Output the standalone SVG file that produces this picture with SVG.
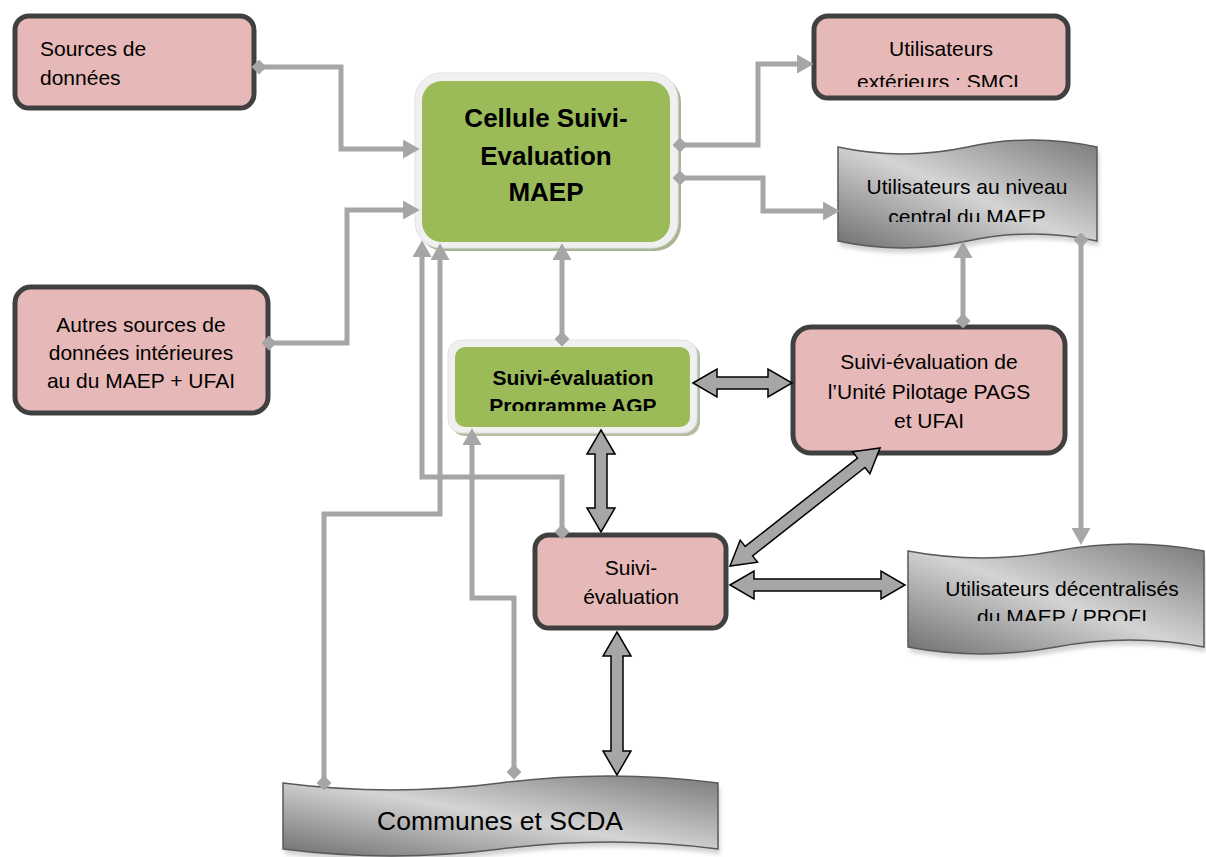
<svg xmlns="http://www.w3.org/2000/svg" width="1206" height="857" viewBox="0 0 1206 857">
<style>
.pink{fill:#e6b8b7;stroke:#404040;stroke-width:5}
.t{font-family:"Liberation Sans",Arial,sans-serif;font-size:21px;fill:#000}
.c{text-anchor:middle}
.b{font-weight:bold}
.conn{fill:none;stroke:#a6a6a6;stroke-width:5;marker-start:url(#dm);marker-end:url(#ah)}
.blk{fill:#a6a6a6;stroke:#000;stroke-width:1.5;stroke-linejoin:miter}
.doc{fill:url(#docg);stroke:#595959;stroke-width:1.5}
.docsh{fill:#9a9a9a;opacity:.45;filter:url(#blur)}
</style>
<defs>
<marker id="ah" viewBox="0 0 14 16" refX="5" refY="8" markerWidth="17" markerHeight="19" markerUnits="userSpaceOnUse" orient="auto"><path d="M0,0 L14,8 L0,16 z" fill="#a6a6a6"/></marker>
<marker id="dm" viewBox="0 0 14 14" refX="7" refY="7" markerWidth="15" markerHeight="15" markerUnits="userSpaceOnUse" orient="auto"><path d="M0,7 L7,0 L14,7 L7,14 z" fill="#a6a6a6"/></marker>
<linearGradient id="docg" x1="0" y1="1" x2="1" y2="0">
<stop offset="0" stop-color="#6f6f6f"/>
<stop offset="0.5" stop-color="#d4d4d4"/>
<stop offset="1" stop-color="#7a7a7a"/>
</linearGradient>
<filter id="blur" x="-5%" y="-10%" width="110%" height="130%"><feGaussianBlur stdDeviation="2"/></filter>
<clipPath id="clipExt"><rect x="800" y="0" width="300" height="87"/></clipPath>
<clipPath id="clipCenB"><rect x="830" y="130" width="280" height="92"/></clipPath>
<clipPath id="clipDec"><rect x="900" y="530" width="306" height="91"/></clipPath>
<clipPath id="clipAgp"><rect x="440" y="330" width="270" height="81"/></clipPath>
</defs>

<g id="sources">
<rect class="pink" x="15" y="16" width="239" height="92" rx="14"/>
<text class="t" x="40" y="56">Sources de</text>
<text class="t" x="40" y="85">données</text>
</g>

<g id="autres">
<rect class="pink" x="15" y="287" width="253" height="126" rx="16"/>
<text class="t c" x="141" y="332">Autres sources de</text>
<text class="t c" x="141" y="360">données intérieures</text>
<text class="t c" x="141" y="388">au du MAEP + UFAI</text>
</g>

<g id="cellule">
<rect x="418" y="76" width="263" height="175" rx="26" fill="#a9b693"/>
<rect x="415" y="73" width="263" height="175" rx="26" fill="#f0f0f0" stroke="#e2e2e2" stroke-width="1"/>
<rect x="422" y="81" width="248" height="161" rx="20" fill="#9bbb59"/>
<text class="t c b" x="546" y="127" style="font-size:26px">Cellule Suivi-</text>
<text class="t c b" x="546" y="165" style="font-size:26px">Evaluation</text>
<text class="t c b" x="546" y="201" style="font-size:26px">MAEP</text>
</g>

<g id="exterieurs">
<rect class="pink" x="814" y="16" width="254" height="82" rx="14"/>
<text class="t c" x="941" y="56">Utilisateurs</text>
<text class="t c" x="941" y="89" clip-path="url(#clipExt)">extérieurs : SMCL</text>
</g>

<g id="central">
<path class="docsh" transform="translate(2,5)" d="M838,147 C881.2,156.3 924.3,156.3 967.5,147 C1010.7,137.7 1053.8,137.7 1097,147 L1097,241 C1053.8,231.7 1010.7,231.7 967.5,241 C924.3,250.3 881.2,250.3 838,241 Z"/>
<path class="doc" d="M838,147 C881.2,156.3 924.3,156.3 967.5,147 C1010.7,137.7 1053.8,137.7 1097,147 L1097,241 C1053.8,231.7 1010.7,231.7 967.5,241 C924.3,250.3 881.2,250.3 838,241 Z"/>
<text class="t c" x="967" y="194">Utilisateurs au niveau</text>
<text class="t c" x="967" y="224" clip-path="url(#clipCenB)">central du MAEP</text>
</g>

<g id="agp">
<rect x="451" y="343" width="249" height="93" rx="14" fill="#b3bda3"/>
<rect x="448" y="340" width="249" height="93" rx="14" fill="#f0f0f0" stroke="#e2e2e2" stroke-width="1"/>
<rect x="455" y="347" width="235" height="80" rx="10" fill="#9bbb59"/>
<text class="t c b" x="573" y="385">Suivi-évaluation</text>
<text class="t c b" x="573" y="413" clip-path="url(#clipAgp)">Programme AGP</text>
</g>

<g id="pilotage">
<rect class="pink" x="793" y="327" width="272" height="126" rx="18"/>
<text class="t c" x="929" y="369">Suivi-évaluation de</text>
<text class="t c" x="929" y="399">l’Unité Pilotage PAGS</text>
<text class="t c" x="929" y="428">et UFAI</text>
</g>

<g id="suivi">
<rect class="pink" x="535" y="535" width="191" height="93" rx="14"/>
<text class="t c" x="631" y="575">Suivi-</text>
<text class="t c" x="631" y="604">évaluation</text>
</g>

<g id="decentralises">
<path class="docsh" transform="translate(2,5)" d="M908,551 C957.3,560.3 1006.7,560.3 1056,551 C1105.3,541.7 1154.7,541.7 1204,551 L1204,647 C1154.7,637.7 1105.3,637.7 1056,647 C1006.7,656.3 957.3,656.3 908,647 Z"/>
<path class="doc" d="M908,551 C957.3,560.3 1006.7,560.3 1056,551 C1105.3,541.7 1154.7,541.7 1204,551 L1204,647 C1154.7,637.7 1105.3,637.7 1056,647 C1006.7,656.3 957.3,656.3 908,647 Z"/>
<text class="t c" x="1062" y="596">Utilisateurs décentralisés</text>
<text class="t c" x="1062" y="624" clip-path="url(#clipDec)">du MAEP / PROFI</text>
</g>

<g id="communes">
<path class="docsh" transform="translate(2,5)" d="M283,783 C355.5,792.3 428,792.3 500.5,783 C573,773.7 645.5,773.7 718,783 L718,849 C645.5,839.7 573,839.7 500.5,849 C428,858.3 355.5,858.3 283,849 Z"/>
<path class="doc" d="M283,783 C355.5,792.3 428,792.3 500.5,783 C573,773.7 645.5,773.7 718,783 L718,849 C645.5,839.7 573,839.7 500.5,849 C428,858.3 355.5,858.3 283,849 Z"/>
<text class="t c" x="500" y="830" style="font-size:26.5px">Communes et SCDA</text>
</g>

<g id="connectors">
<path class="conn" d="M259,67 H341 V149 H409"/>
<path class="conn" d="M269,343 H347 V210 H409"/>
<path class="conn" d="M680,145 H758 V64 H803"/>
<path class="conn" d="M680,178 H763 V211 H829"/>
<path class="conn" d="M963,321 V252"/>
<path class="conn" d="M1081,240 V534"/>
<path class="conn" d="M562,339 V254"/>
<path class="conn" d="M562,532 V477 H422 V251"/>
<path class="conn" d="M324,783 V514 H440 V254"/>
<path class="conn" d="M514,772 V598 H472 V439"/>
<polygon class="blk" points="693,383 717,369 717,377 768,377 768,369 792,383 768,397 768,389 717,389 717,397"/>
<polygon class="blk" points="601,430 615,454 607,454 607,508 615,508 601,532 587,508 595,508 595,454 587,454"/>
<polygon class="blk" points="617,632 631,656 623,656 623,751 631,751 617,775 603,751 611,751 611,656 603,656"/>
<polygon class="blk" points="730,585 754,571 754,579 881,579 881,571 905,585 881,599 881,591 754,591 754,599"/>
<polygon class="blk" transform="translate(730,566) rotate(-38.2)" points="0,0 24,-14 24,-6 167,-6 167,-14 191,0 167,14 167,6 24,6 24,14"/>
</g>
</svg>
